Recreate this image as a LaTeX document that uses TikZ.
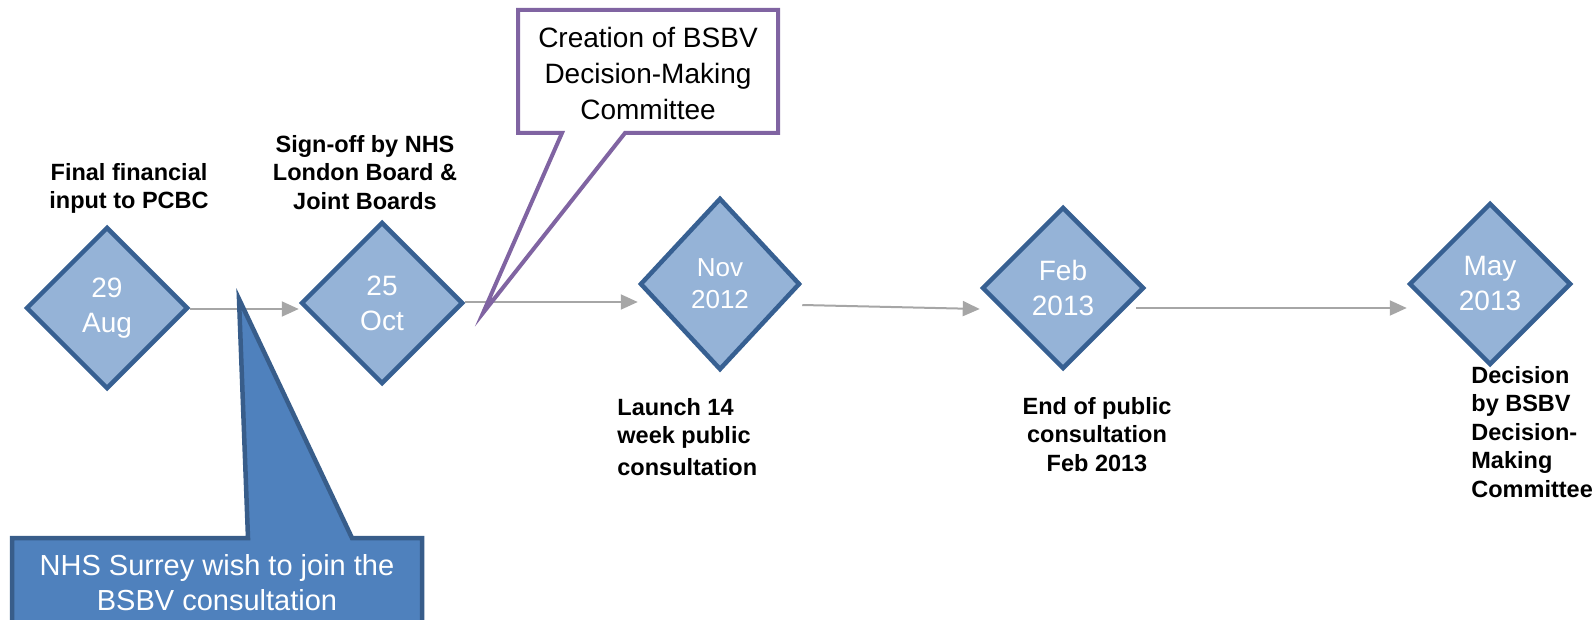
\documentclass[tikz,border=0pt]{standalone}
\usepackage{fontspec}
\setmainfont{Liberation Sans}
\usetikzlibrary{shapes.geometric,arrows.meta}

\definecolor{datefill}{HTML}{95B3D7}
\definecolor{dateline}{HTML}{376092}
\definecolor{linkgray}{HTML}{A6A6A6}
\definecolor{notepurple}{HTML}{8064A2}
\definecolor{noteblue}{HTML}{4F81BD}
\definecolor{noteblueline}{HTML}{385D8A}

\begin{document}
\begin{tikzpicture}[x=0.5pt,y=-0.5pt,
	milestone/.style={diamond, draw=dateline, fill=datefill, line width=2.25pt,
		minimum width=81pt, minimum height=81pt, inner sep=0pt, text=white,
		align=center, font=\fontsize{14}{17.5}\selectfont,
		execute at begin node={\rule{0pt}{15.5pt}}},
	caption/.style={inner sep=0pt, font=\bfseries\fontsize{11.75}{14.25}\selectfont},
	link/.style={draw=linkgray, line width=1pt, -{Triangle[length=8.5pt,width=7.5pt]}}]
	\useasboundingbox (0,0) rectangle (1595,620);
	\clip (0,0) rectangle (1595,620);
	% milestones
	\node[milestone] (aug) at (107,308) {29\\Aug};
	\node[milestone] (oct) at (382,303) {25\\Oct};
	\node[milestone, minimum width=80pt, minimum height=86pt, font=\fontsize{13}{16}\selectfont] (nov) at (720,284) {Nov\\2012};
	\node[milestone] (feb) at (1063,288) {Feb\\2013};
	\node[milestone] (may) at (1490,284) {May\\2013};
	% captions
	\node[caption, anchor=north, align=center] (augtxt) at (129,163) {Final financial\\input to PCBC};
	\node[caption, anchor=north, align=center] (octtxt) at (365,135) {Sign-off by NHS\\London Board \&\\Joint Boards};
	\node[caption, anchor=north west, align=left] (novtxt) at (617,398) {Launch 14\\week public\\[1.75pt]consultation};
	\node[caption, anchor=north, align=center] (febtxt) at (1097,397) {End of public\\consultation\\Feb 2013};
	\node[caption, anchor=north west, align=left] (maytxt) at (1471,366) {Decision\\by BSBV\\Decision-\\Making\\Committee};
	% timeline
	\draw[link] ([yshift=-0.5pt]aug.east) -- ([yshift=-3pt]oct.west);
	\draw[link] ([yshift=0.5pt]oct.east) -- ([yshift=-9pt]nov.west);
	\draw[link] ([yshift=-10.5pt]nov.east) -- ([yshift=-10.5pt]feb.west);
	\draw[link] ([xshift=-5pt,yshift=-10pt]feb.east) -- ([yshift=-12pt]may.west);
	% callouts
	\draw[notepurple, fill=white, line width=2pt] (518,133) -- (518,10) -- (778,10) -- (778,133)
		-- (625,133) -- (483,313) -- (562,133) -- cycle;
	\node[anchor=north, align=center, inner sep=0pt, font=\fontsize{14}{18}\selectfont] (dmc) at (648,27)
		{Creation of BSBV\\Decision-Making\\Committee};
	\draw[noteblueline, fill=noteblue, line width=2.25pt] (12,660) -- (12,538) -- (248,538) -- (239,299)
		-- (352,538) -- (422,538) -- (422,660) -- cycle;
	\node[anchor=north, align=center, inner sep=0pt, text=white, font=\fontsize{14.5}{17.5}\selectfont] (surrey) at (217,554)
		{NHS Surrey wish to join the\\BSBV consultation};
\end{tikzpicture}
\end{document}
